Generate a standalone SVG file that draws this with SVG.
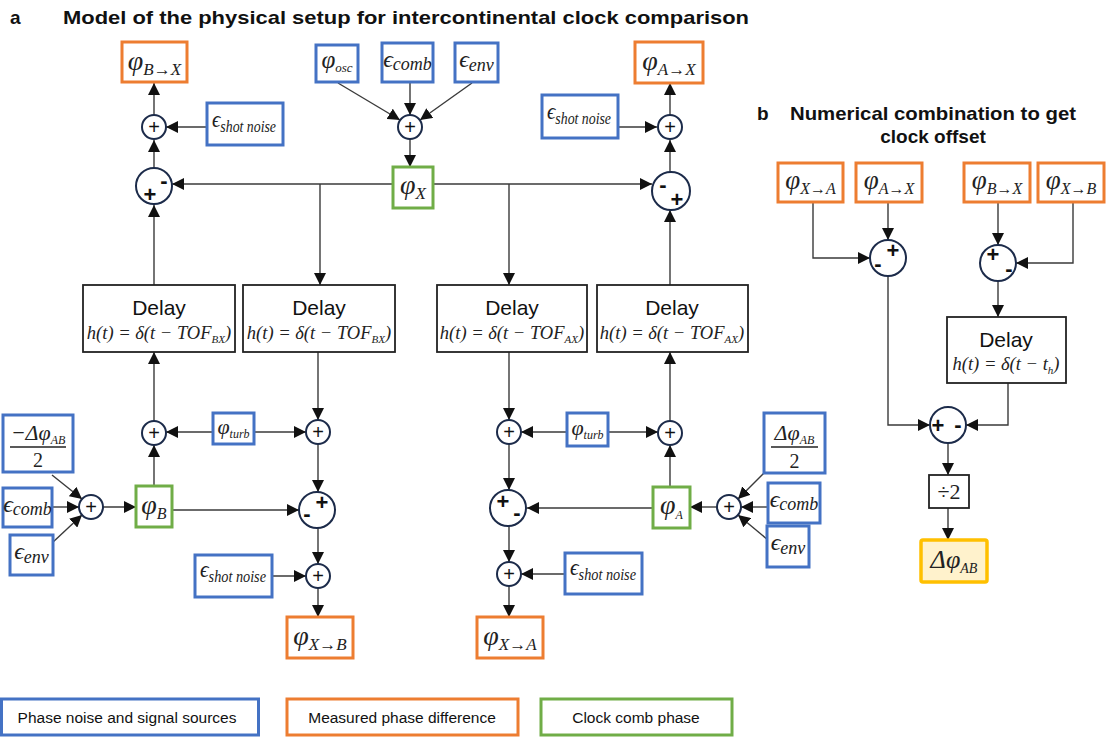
<svg xmlns="http://www.w3.org/2000/svg" width="1106" height="738" viewBox="0 0 1106 738">
<defs>
<marker id="ah" viewBox="0 0 12 12" refX="12" refY="6" markerWidth="12" markerHeight="12" markerUnits="userSpaceOnUse" orient="auto"><path d="M0,0 L12,6 L0,12 z" fill="#111"/></marker>
<style>
.b{fill:#fff;stroke:#4472c4;stroke-width:3}
.o{fill:#fff;stroke:#ed7d31;stroke-width:3}
.g{fill:#fff;stroke:#70ad47;stroke-width:3}
.k{fill:#fff;stroke:#222;stroke-width:1.8}
.y{fill:#fff2cc;stroke:#ffc000;stroke-width:3.5}
.c{fill:#fff;stroke:#1c2b4a;stroke-width:2}
.ln{fill:none;stroke:#3a3a3a;stroke-width:1.4;marker-end:url(#ah)}
.m{font-family:"Liberation Serif","DejaVu Serif",serif;font-style:italic;fill:#222}
.u{font-family:"Liberation Serif","DejaVu Serif",serif;fill:#222}
.s{font-family:"Liberation Sans",Arial,sans-serif;fill:#111}
.t{font-family:"Liberation Sans",Arial,sans-serif;font-weight:bold;font-size:19px;fill:#111}
.p{font-family:"Liberation Sans",Arial,sans-serif;font-size:20px;fill:#111;text-anchor:middle}
.pb{font-family:"Liberation Sans",Arial,sans-serif;font-size:22px;font-weight:bold;fill:#111;text-anchor:middle}
.f{font-family:"Liberation Serif","DejaVu Serif",serif;font-style:italic;font-size:18.5px;fill:#222;text-anchor:middle}
.mid{text-anchor:middle}
</style>
</defs>

<!-- titles -->
<text class="t" x="10" y="24">a</text>
<text class="t" x="63" y="24" textLength="686" lengthAdjust="spacingAndGlyphs">Model of the physical setup for intercontinental clock comparison</text>
<text class="t" x="757" y="120">b</text>
<text class="t" x="790" y="120" textLength="286" lengthAdjust="spacingAndGlyphs">Numerical combination to get</text>
<text class="t mid" x="933" y="143">clock offset</text>

<!-- connectors -->
<g id="connectors">
<path class="ln" d="M154,115 L154,83"/>
<path class="ln" d="M207,127 L166,127"/>
<path class="ln" d="M154,168 L154,140"/>
<path class="ln" d="M393,184 L172,184"/>
<path class="ln" d="M154,285 L154,205"/>
<path class="ln" d="M320,184 L320,285"/>
<path class="ln" d="M433,184 L652,184"/>
<path class="ln" d="M509,184 L509,285"/>
<path class="ln" d="M670,285 L670,210"/>
<path class="ln" d="M670,172 L670,140"/>
<path class="ln" d="M618,127 L657,127"/>
<path class="ln" d="M670,115 L670,83"/>
<path class="ln" d="M338,83 L400,120"/>
<path class="ln" d="M410,82 L410,115"/>
<path class="ln" d="M472,83 L420,120"/>
<path class="ln" d="M410,139 L410,167"/>
<path class="ln" d="M154,486 L154,445"/>
<path class="ln" d="M154,421 L154,352"/>
<path class="ln" d="M213,432 L166,432"/>
<path class="ln" d="M254,432 L306,432"/>
<path class="ln" d="M318,352 L318,420"/>
<path class="ln" d="M318,444 L318,492"/>
<path class="ln" d="M172,510 L299,510"/>
<path class="ln" d="M318,528 L318,564"/>
<path class="ln" d="M272,576 L306,576"/>
<path class="ln" d="M318,588 L318,617"/>
<path class="ln" d="M52,475 L82,499"/>
<path class="ln" d="M52,507 L79,507"/>
<path class="ln" d="M52,543 L82,515"/>
<path class="ln" d="M103,507 L136,507"/>
<path class="ln" d="M509,352 L509,420"/>
<path class="ln" d="M567,432 L521,432"/>
<path class="ln" d="M608,432 L658,432"/>
<path class="ln" d="M509,444 L509,490"/>
<path class="ln" d="M653,508 L527,508"/>
<path class="ln" d="M509,526 L509,562"/>
<path class="ln" d="M565,574 L521,574"/>
<path class="ln" d="M509,586 L509,617"/>
<path class="ln" d="M670,487 L670,445"/>
<path class="ln" d="M670,421 L670,352"/>
<path class="ln" d="M765,472 L738,499"/>
<path class="ln" d="M768,507 L741,507"/>
<path class="ln" d="M768,540 L738,515"/>
<path class="ln" d="M717,507 L690,507"/>
<path class="ln" d="M888,202 L888,240"/>
<path class="ln" d="M813,202 L813,258 L870,258"/>
<path class="ln" d="M998,202 L998,245"/>
<path class="ln" d="M1073,202 L1073,263 L1016,263"/>
<path class="ln" d="M998,281 L998,317"/>
<path class="ln" d="M1008,383 L1008,425 L966,425"/>
<path class="ln" d="M888,276 L888,425 L930,425"/>
<path class="ln" d="M948,443 L948,475"/>
<path class="ln" d="M948,508 L948,540"/>
</g>

<!-- panel a top -->
<g id="phiBX_top"><rect class="o" x="122" y="42" width="65" height="40"/><text class="m mid" x="154.5" y="70"><tspan font-size="28">φ</tspan><tspan font-size="17" dy="5">B→X</tspan></text></g>
<g id="sumL_top"><circle class="c" cx="154" cy="127" r="12"/><text class="p" x="154" y="134">+</text></g>
<g id="shotL_top"><rect class="b" x="207" y="103" width="76" height="42"/><text class="m" x="212" y="127" textLength="64" lengthAdjust="spacingAndGlyphs"><tspan font-size="24">ϵ</tspan><tspan font-size="16" dy="5">shot noise</tspan></text></g>
<g id="diffL_top"><circle class="c" cx="154" cy="186" r="18"/><text class="pb" x="164" y="188">-</text><text class="pb" x="150" y="202">+</text></g>

<g id="phiOsc"><rect class="b" x="316" y="45" width="42" height="37"/><text class="m mid" x="337" y="68"><tspan font-size="25">φ</tspan><tspan font-size="13" dy="4">osc</tspan></text></g>
<g id="epsCombX"><rect class="b" x="382" y="43" width="51" height="39"/><text class="m mid" x="407.5" y="67"><tspan font-size="24">ϵ</tspan><tspan font-size="18" dy="3">comb</tspan></text></g>
<g id="epsEnvX"><rect class="b" x="455" y="43" width="43" height="39"/><text class="m mid" x="476.5" y="67"><tspan font-size="24">ϵ</tspan><tspan font-size="18" dy="4">env</tspan></text></g>
<g id="sumX"><circle class="c" cx="410" cy="127" r="12"/><text class="p" x="410" y="134">+</text></g>
<g id="phiX"><rect class="g" x="393" y="167" width="40" height="41"/><text class="m mid" x="413" y="194"><tspan font-size="28">φ</tspan><tspan font-size="17" dy="5">X</tspan></text></g>

<g id="phiAX_top"><rect class="o" x="635" y="42" width="68" height="41"/><text class="m mid" x="669" y="70"><tspan font-size="28">φ</tspan><tspan font-size="17" dy="5">A→X</tspan></text></g>
<g id="sumR_top"><circle class="c" cx="670" cy="127" r="12"/><text class="p" x="670" y="134">+</text></g>
<g id="shotR_top"><rect class="b" x="542" y="95" width="76" height="43"/><text class="m" x="547" y="119" textLength="64" lengthAdjust="spacingAndGlyphs"><tspan font-size="24">ϵ</tspan><tspan font-size="16" dy="5">shot noise</tspan></text></g>
<g id="diffR_top"><circle class="c" cx="671" cy="191" r="19"/><text class="pb" x="663" y="192">-</text><text class="pb" x="677" y="207">+</text></g>

<!-- delays -->
<g id="delay1"><rect class="k" x="83" y="285" width="152" height="67"/><text class="s mid" x="159" y="315" font-size="21">Delay</text><text class="f" x="159" y="339">h(t) = δ(t − TOF<tspan font-size="11" dy="4">BX</tspan><tspan dy="-4">)</tspan></text></g>
<g id="delay2"><rect class="k" x="243" y="285" width="152" height="67"/><text class="s mid" x="319" y="315" font-size="21">Delay</text><text class="f" x="319" y="339">h(t) = δ(t − TOF<tspan font-size="11" dy="4">BX</tspan><tspan dy="-4">)</tspan></text></g>
<g id="delay3"><rect class="k" x="437" y="285" width="150" height="67"/><text class="s mid" x="512" y="315" font-size="21">Delay</text><text class="f" x="512" y="339">h(t) = δ(t − TOF<tspan font-size="11" dy="4">AX</tspan><tspan dy="-4">)</tspan></text></g>
<g id="delay4"><rect class="k" x="597" y="285" width="151" height="67"/><text class="s mid" x="672" y="315" font-size="21">Delay</text><text class="f" x="672" y="339">h(t) = δ(t − TOF<tspan font-size="11" dy="4">AX</tspan><tspan dy="-4">)</tspan></text></g>

<!-- bottom left -->
<g id="dphiB"><rect class="b" x="3" y="415" width="70" height="57"/><text class="m mid" x="38" y="440"><tspan class="u" font-size="22">−Δ</tspan><tspan font-size="22">φ</tspan><tspan font-size="12" dy="4">AB</tspan></text><line x1="10" y1="447" x2="66" y2="447" stroke="#222" stroke-width="1.5"/><text class="u mid" x="38" y="467" font-size="20">2</text></g>
<g id="epsCombB"><rect class="b" x="3" y="488" width="49" height="39"/><text class="m mid" x="27.5" y="512"><tspan font-size="24">ϵ</tspan><tspan font-size="18" dy="3">comb</tspan></text></g>
<g id="epsEnvB"><rect class="b" x="10" y="535" width="43" height="40"/><text class="m mid" x="31.5" y="559"><tspan font-size="24">ϵ</tspan><tspan font-size="18" dy="4">env</tspan></text></g>
<g id="sumB"><circle class="c" cx="91" cy="507" r="12"/><text class="p" x="91" y="514">+</text></g>
<g id="phiB"><rect class="g" x="136" y="486" width="36" height="41"/><text class="m mid" x="154" y="514"><tspan font-size="28">φ</tspan><tspan font-size="16" dy="5">B</tspan></text></g>
<g id="sumB_up"><circle class="c" cx="154" cy="433" r="12"/><text class="p" x="154" y="440">+</text></g>
<g id="turbB"><rect class="b" x="213" y="413" width="41" height="31"/><text class="m mid" x="233.5" y="434"><tspan font-size="22">φ</tspan><tspan font-size="12" dy="4">turb</tspan></text></g>
<g id="sumB_dn"><circle class="c" cx="318" cy="432" r="12"/><text class="p" x="318" y="439">+</text></g>
<g id="diffB"><circle class="c" cx="317" cy="510" r="18"/><text class="pb" x="322" y="510">+</text><text class="pb" x="307" y="521">-</text></g>
<g id="sumB_out"><circle class="c" cx="318" cy="576" r="12"/><text class="p" x="318" y="583">+</text></g>
<g id="shotB"><rect class="b" x="195" y="555" width="77" height="42"/><text class="m" x="200" y="577" textLength="66" lengthAdjust="spacingAndGlyphs"><tspan font-size="24">ϵ</tspan><tspan font-size="16" dy="5">shot noise</tspan></text></g>
<g id="phiXB"><rect class="o" x="287" y="617" width="66" height="41"/><text class="m mid" x="320" y="645"><tspan font-size="28">φ</tspan><tspan font-size="17" dy="5">X→B</tspan></text></g>

<!-- bottom right -->
<g id="sumA_dn"><circle class="c" cx="509" cy="432" r="12"/><text class="p" x="509" y="439">+</text></g>
<g id="turbA"><rect class="b" x="567" y="413" width="41" height="33"/><text class="m mid" x="587.5" y="435"><tspan font-size="22">φ</tspan><tspan font-size="12" dy="4">turb</tspan></text></g>
<g id="sumA_up"><circle class="c" cx="670" cy="433" r="12"/><text class="p" x="670" y="440">+</text></g>
<g id="diffA"><circle class="c" cx="508" cy="508" r="18"/><text class="pb" x="503" y="509">+</text><text class="pb" x="517" y="520">-</text></g>
<g id="sumA_out"><circle class="c" cx="509" cy="574" r="12"/><text class="p" x="509" y="581">+</text></g>
<g id="shotA"><rect class="b" x="565" y="553" width="77" height="41"/><text class="m" x="570" y="575" textLength="66" lengthAdjust="spacingAndGlyphs"><tspan font-size="24">ϵ</tspan><tspan font-size="16" dy="5">shot noise</tspan></text></g>
<g id="phiXA"><rect class="o" x="477" y="617" width="66" height="41"/><text class="m mid" x="510" y="645"><tspan font-size="28">φ</tspan><tspan font-size="17" dy="5">X→A</tspan></text></g>
<g id="phiA"><rect class="g" x="653" y="487" width="37" height="41"/><text class="m mid" x="671.5" y="514"><tspan font-size="28">φ</tspan><tspan font-size="12" dy="5">A</tspan></text></g>
<g id="sumA"><circle class="c" cx="729" cy="507" r="12"/><text class="p" x="729" y="514">+</text></g>
<g id="dphiA"><rect class="b" x="764" y="413" width="61" height="60"/><text class="m mid" x="794.5" y="440"><tspan class="u" font-size="22">Δ</tspan><tspan font-size="22">φ</tspan><tspan font-size="12" dy="4">AB</tspan></text><line x1="771" y1="447" x2="818" y2="447" stroke="#222" stroke-width="1.5"/><text class="u mid" x="794.5" y="468" font-size="20">2</text></g>
<g id="epsCombA"><rect class="b" x="768" y="483" width="52" height="40"/><text class="m mid" x="794" y="507"><tspan font-size="24">ϵ</tspan><tspan font-size="18" dy="3">comb</tspan></text></g>
<g id="epsEnvA"><rect class="b" x="767" y="526" width="42" height="41"/><text class="m mid" x="788" y="550"><tspan font-size="24">ϵ</tspan><tspan font-size="18" dy="4">env</tspan></text></g>

<!-- panel b -->
<g id="b_phiXA"><rect class="o" x="778" y="163" width="65" height="39"/><text class="m mid" x="810.5" y="189"><tspan font-size="27">φ</tspan><tspan font-size="16" dy="5">X→A</tspan></text></g>
<g id="b_phiAX"><rect class="o" x="856" y="163" width="66" height="39"/><text class="m mid" x="889" y="189"><tspan font-size="27">φ</tspan><tspan font-size="16" dy="5">A→X</tspan></text></g>
<g id="b_phiBX"><rect class="o" x="964" y="163" width="66" height="39"/><text class="m mid" x="997" y="189"><tspan font-size="27">φ</tspan><tspan font-size="16" dy="5">B→X</tspan></text></g>
<g id="b_phiXB"><rect class="o" x="1038" y="163" width="66" height="39"/><text class="m mid" x="1071" y="189"><tspan font-size="27">φ</tspan><tspan font-size="16" dy="5">X→B</tspan></text></g>
<g id="b_diffA"><circle class="c" cx="888" cy="258" r="18"/><text class="pb" x="893" y="258">+</text><text class="pb" x="878" y="271">-</text></g>
<g id="b_diffB"><circle class="c" cx="998" cy="263" r="18"/><text class="pb" x="993" y="262">+</text><text class="pb" x="1009" y="276">-</text></g>
<g id="b_delay"><rect class="k" x="947" y="317" width="119" height="66"/><text class="s mid" x="1006" y="347" font-size="21">Delay</text><text class="f" x="1006" y="370">h(t) = δ(t − t<tspan font-size="11" dy="4">h</tspan><tspan dy="-4">)</tspan></text></g>
<g id="b_diff"><circle class="c" cx="948" cy="425" r="18"/><text class="pb" x="938" y="433">+</text><text class="pb" x="958" y="432">-</text></g>
<g id="b_div2"><rect class="k" x="929" y="475" width="40" height="33"/><text class="u mid" x="949" y="499" font-size="22">÷2</text></g>
<g id="b_result"><rect class="y" x="921" y="540" width="66" height="42" rx="2"/><text class="m mid" x="954" y="568"><tspan class="u" font-size="26">Δ</tspan><tspan font-size="26">φ</tspan><tspan font-size="14" dy="5">AB</tspan></text></g>

<!-- legend -->
<g id="legend_blue"><rect class="b" x="1.5" y="699" width="257" height="36"/><text class="s mid" x="127" y="723" font-size="15.5">Phase noise and signal sources</text></g>
<g id="legend_orange"><rect class="o" x="287" y="699" width="231" height="36"/><text class="s mid" x="402" y="723" font-size="15.5">Measured phase difference</text></g>
<g id="legend_green"><rect class="g" x="541" y="699" width="191" height="36"/><text class="s mid" x="636" y="723" font-size="15.5">Clock comb phase</text></g>
</svg>
